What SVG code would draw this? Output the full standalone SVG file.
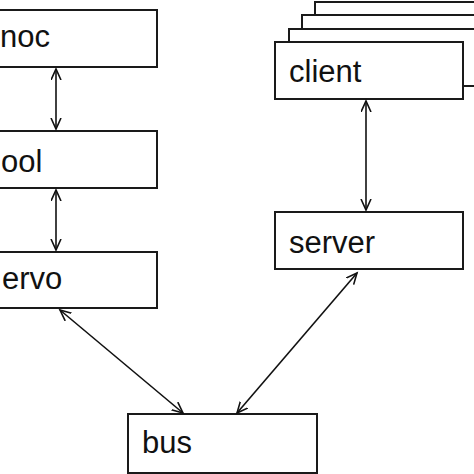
<svg xmlns="http://www.w3.org/2000/svg" width="474" height="474" viewBox="0 0 474 474">
<style>
.box{fill:#fff;stroke:#1a1a1a;stroke-width:2}
.lbl{font-family:"Liberation Sans",Arial,sans-serif;font-size:31px;fill:#111}
.edge{stroke:#111;stroke-width:1.6;fill:none;marker-start:url(#ah);marker-end:url(#ah)}
</style>
<defs>
<marker id="ah" markerUnits="userSpaceOnUse" markerWidth="14" markerHeight="12" refX="11" refY="5.5" orient="auto-start-reverse" viewBox="0 0 14 12">
<path d="M0,0.5 L11,5.5 L0,10.5" fill="none" stroke="#111" stroke-width="1.6"/>
</marker>
</defs>
<rect width="474" height="474" fill="#fff"/>
<g id="noc"><rect class="box" x="-10" y="10" width="167" height="57"/><text class="lbl" x="0" y="47">noc</text></g>
<g id="pool"><rect class="box" x="-10" y="131" width="167" height="57"/><text class="lbl" x="1" y="172">ool</text></g>
<g id="servo"><rect class="box" x="-10" y="252" width="167" height="56"/><text class="lbl" x="2" y="289">ervo</text></g>
<g id="client">
<rect class="box" x="315" y="2" width="220" height="57"/>
<rect class="box" x="302" y="15" width="220" height="57"/>
<rect class="box" x="289" y="29" width="220" height="57"/>
<rect class="box" x="275" y="42" width="188" height="57"/>
<text class="lbl" x="289" y="82">client</text>
</g>
<g id="server"><rect class="box" x="275" y="212" width="188" height="57"/><text class="lbl" x="289" y="253">server</text></g>
<g id="bus"><rect class="box" x="128" y="414" width="189" height="59"/><text class="lbl" x="142" y="453">bus</text></g>
<g id="connectors">
<line class="edge" x1="56" y1="69" x2="56" y2="129"/>
<line class="edge" x1="56" y1="190" x2="56" y2="250"/>
<line class="edge" x1="366" y1="101" x2="366" y2="210"/>
<line class="edge" x1="60" y1="310" x2="183" y2="413"/>
<line class="edge" x1="357" y1="273" x2="237" y2="413"/>
</g>
</svg>
